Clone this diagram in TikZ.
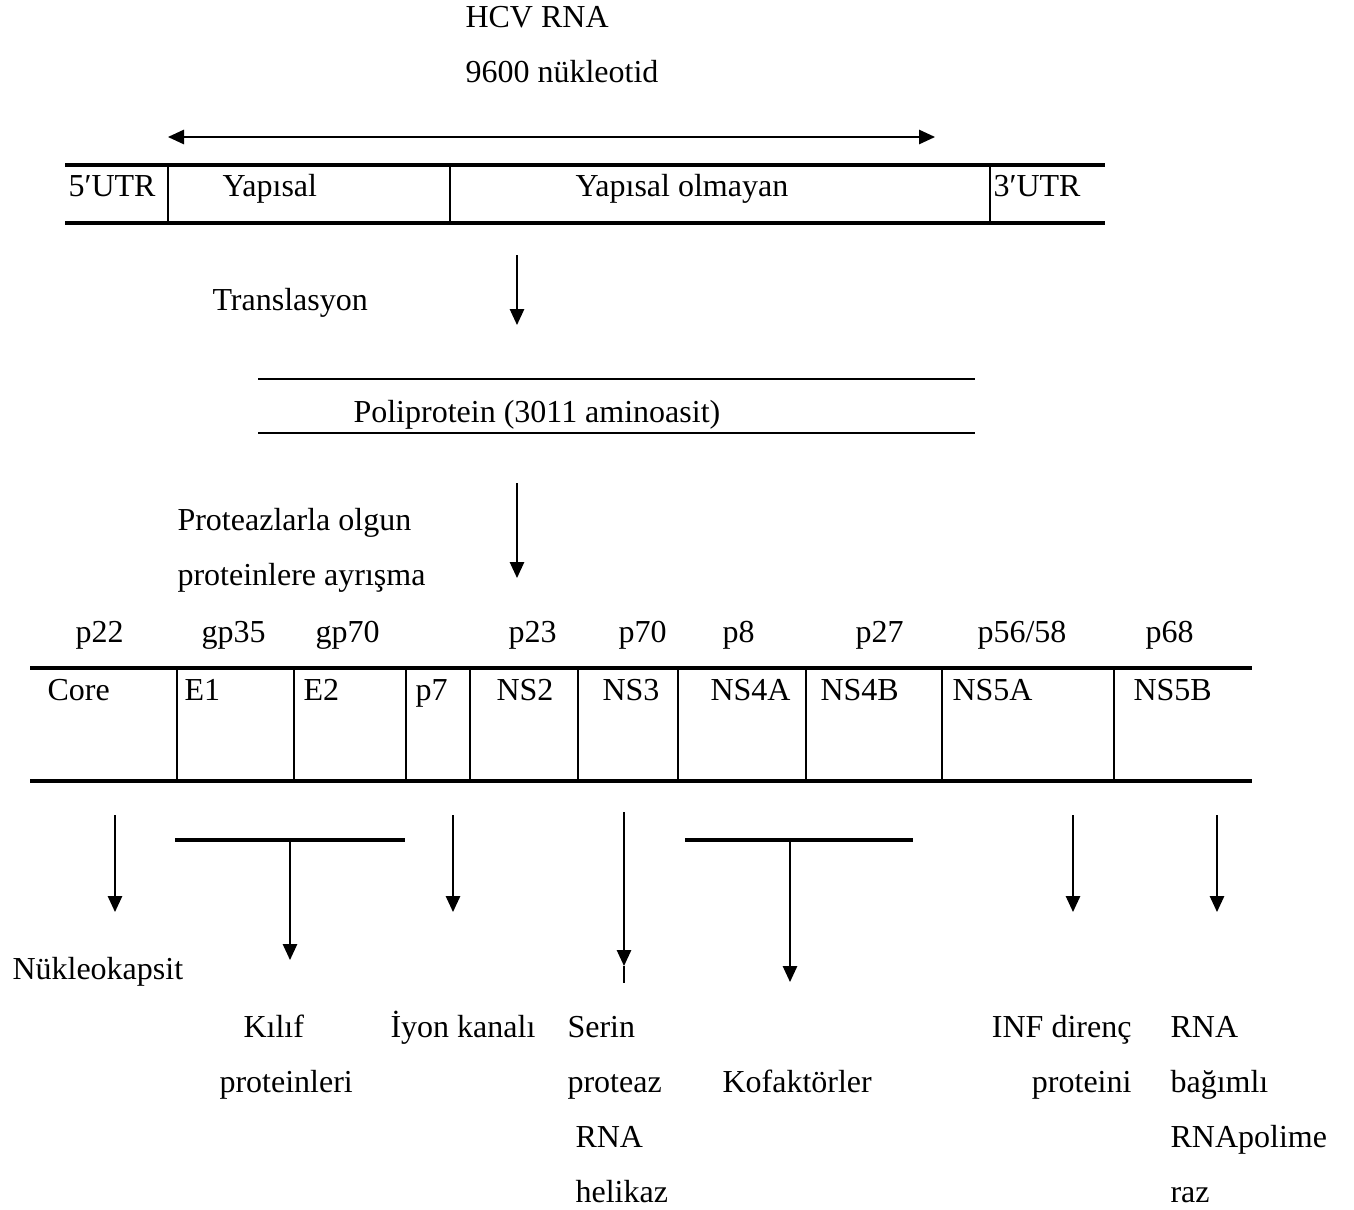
\documentclass[tikz,border=0pt]{standalone}
\usepackage{fontspec}
\setmainfont{Liberation Serif}
\usetikzlibrary{positioning,arrows.meta}

\begin{document}
\begin{tikzpicture}[x=0.375pt,y=-0.375pt,
    lbl/.style={anchor=base west,inner sep=0pt,font=\fontsize{12}{14}\selectfont},
    bar/.style={line width=1.2pt},
    sep/.style={line width=0.8pt},
    arr/.style={line width=0.6pt,-{Triangle[width=5.4pt,length=6pt]}}]
    \useasboundingbox (0,0) rectangle (1354,1209);

    % Title
    \node[lbl] (hcv) at (465,28) {HCV RNA};
    \node[lbl] (nukl) at (465,82) {9600 nükleotid};

    % Genome (RNA) bar
    \coordinate (gL) at (168,137);
    \coordinate (gR) at (935,137);
    \draw[line width=0.6pt,{Triangle[width=5.4pt,length=6pt]}-{Triangle[width=5.4pt,length=6pt]}] (gL) -- (gR);
    \draw[bar] (65,165) -- (1105,165);
    \draw[bar] (65,223) -- (1105,223);
    \foreach \x in {168,450,990}
        \draw[sep] (\x,165) -- (\x,223);
    \node[lbl] (utr5) at (68,196) {5′UTR};
    \node[lbl] (yap) at (222,196) {Yapısal};
    \node[lbl] (yapol) at (575,196) {Yapısal olmayan};
    \node[lbl] (utr3) at (993,196) {3′UTR};

    % Translasyon
    \coordinate (trS) at (517,255);
    \coordinate (trE) at (517,325);
    \draw[arr] (trS) -- (trE);
    \node[lbl] (trans) at (212,310) {Translasyon};

    % Poliprotein
    \draw[sep] (258,379) -- (975,379);
    \draw[sep] (258,433) -- (975,433);
    \node[lbl] (poli) at (353,422) {Poliprotein (3011 aminoasit)};

    % Proteazlarla ayrisma
    \coordinate (prS) at (517,483);
    \coordinate (prE) at (517,578);
    \draw[arr] (prS) -- (prE);
    \node[lbl] (pro1) at (177,530) {Proteazlarla olgun};
    \node[lbl] (pro2) at (177,585) {proteinlere ayrışma};

    % Protein sizes
    \foreach \n/\x/\t in {s1/75/p22, s2/201/gp35, s3/315/gp70, s4/508/p23, s5/618/p70,
                          s6/722/p8, s7/855/p27, s8/977/{p56/58}, s9/1145/p68}
        \node[lbl] (\n) at (\x,642) {\t};

    % Protein bar
    \draw[bar] (30,668) -- (1252,668);
    \draw[bar] (30,781) -- (1252,781);
    \foreach \x in {177,294,406,470,578,678,806,942,1114}
        \draw[sep] (\x,668) -- (\x,781);
    \foreach \n/\x/\t in {core/47/Core, e1/184/E1, e2/303/E2, p7/415/p7, ns2/496/NS2,
                          ns3/602/NS3, ns4a/710/NS4A, ns4b/820/NS4B, ns5a/952/NS5A, ns5b/1133/NS5B}
        \node[lbl] (\n) at (\x,700) {\t};

    % Functions
    \foreach \n/\x in {nuk/115,iyon/453,inf/1073,rdrp/1217} {
        \coordinate (\n S) at (\x,815);
        \coordinate (\n E) at (\x,912);
        \draw[arr] (\n S) -- (\n E);
    }
    % E1-E2 bracket
    \coordinate (klL) at (175,840);
    \coordinate (klR) at (405,840);
    \coordinate (klS) at (290,840);
    \coordinate (klE) at (290,960);
    \draw[bar] (klL) -- (klR);
    \draw[arr] (klS) -- (klE);
    % NS3
    \coordinate (serS) at (624,812);
    \coordinate (serE) at (624,966);
    \coordinate (serX) at (624,983);
    \draw[arr] (serS) -- (serE);
    \draw[line width=0.6pt] (serE) -- (serX);
    % NS4A-NS4B bracket
    \coordinate (kfL) at (685,840);
    \coordinate (kfR) at (913,840);
    \coordinate (kfS) at (790,840);
    \coordinate (kfE) at (790,982);
    \draw[bar] (kfL) -- (kfR);
    \draw[arr] (kfS) -- (kfE);

    \node[lbl] (nukt) at (12,979) {Nükleokapsit};
    \node[lbl] (kil1) at (243,1037) {Kılıf};
    \node[lbl] (kil2) at (219,1092) {proteinleri};
    \node[lbl] (iyont) at (390,1037) {İyon kanalı};
    \node[lbl] (ser1) at (567,1037) {Serin};
    \node[lbl] (ser2) at (567,1092) {proteaz};
    \node[lbl] (ser3) at (575,1147) {RNA};
    \node[lbl] (ser4) at (575,1202) {helikaz};
    \node[lbl] (kof) at (722,1092) {Kofaktörler};
    \node[lbl,anchor=base east] (inf1) at (1132,1037) {INF direnç};
    \node[lbl,anchor=base east] (inf2) at (1132,1092) {proteini};
    \node[lbl] (rd1) at (1170,1037) {RNA};
    \node[lbl] (rd2) at (1170,1092) {bağımlı};
    \node[lbl] (rd3) at (1170,1147) {RNApolime};
    \node[lbl] (rd4) at (1170,1202) {raz};
\end{tikzpicture}
\end{document}
